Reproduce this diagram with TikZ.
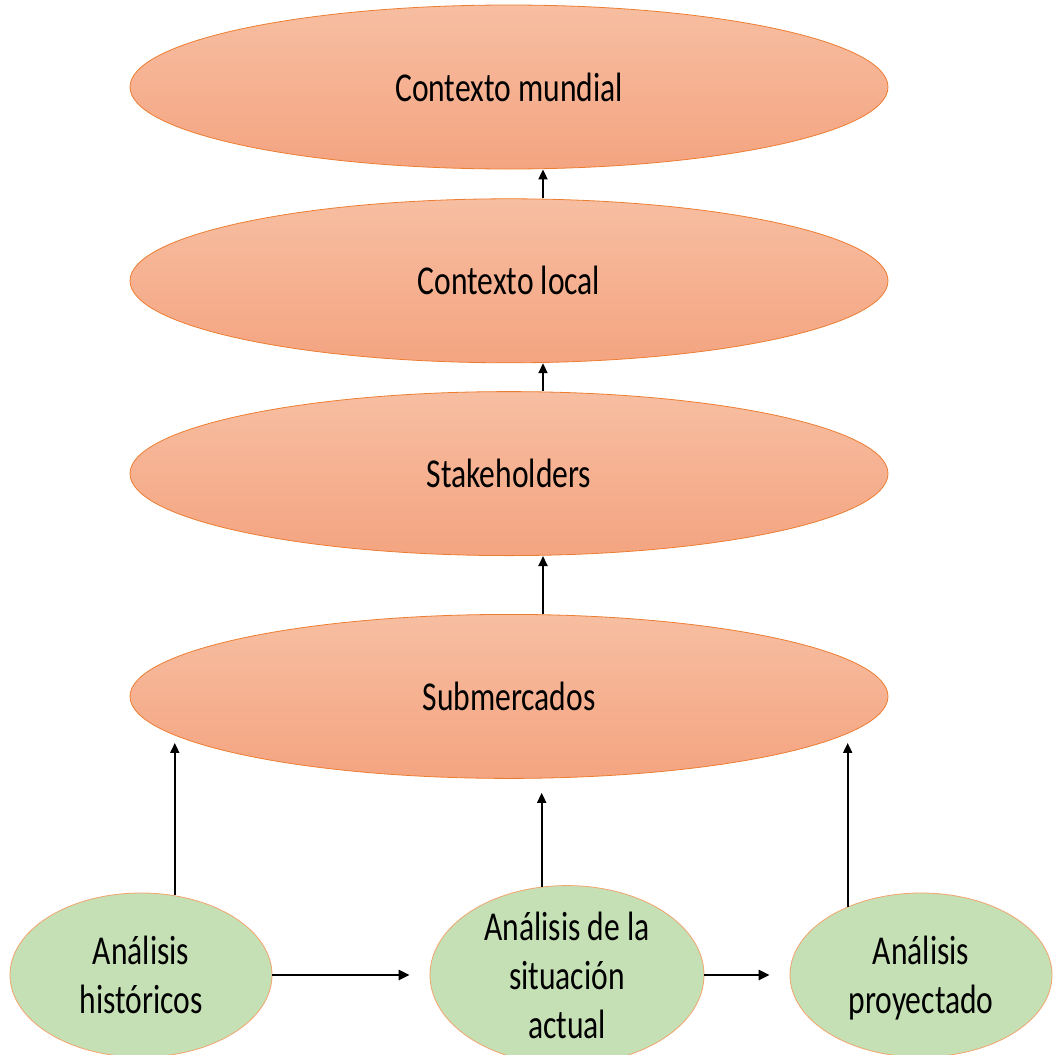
\documentclass[tikz,border=0pt]{standalone}
\usepackage{fontspec}
\setmainfont[FakeStretch=0.77]{Carlito}
\usepackage{tikz}
\usetikzlibrary{arrows.meta, positioning, shapes.geometric}
\definecolor{PeachTop}{HTML}{F7BEA1}
\definecolor{PeachBottom}{HTML}{F4A481}
\definecolor{PeachEdge}{HTML}{ED7D31}
\definecolor{SageFill}{HTML}{C5E0B4}

\begin{document}
\begin{tikzpicture}[x=1pt, y=-1pt, every node/.style={font=\fontsize{41}{49}\selectfont}]
  \tikzstyle{level}=[ellipse, draw=PeachEdge, line width=0.8pt, top color=PeachTop, bottom color=PeachBottom, minimum width=758pt, minimum height=164pt, inner sep=0pt]
  \tikzstyle{source}=[ellipse, draw=PeachEdge!70, line width=0.8pt, fill=SageFill, minimum height=164pt, inner sep=0pt, text depth=0pt, align=center]
  \tikzstyle{uparrow}=[-{Triangle[length=10pt, width=9pt]}, line width=1.8pt]
  \tikzstyle{sidearrow}=[-{Triangle[length=11pt, width=10pt]}, line width=2.8pt]

  \useasboundingbox (0,0) rectangle (1053,1055);

  \node[level] (mundial) at (509,87) {Contexto mundial};
  \node[level, below=29pt of mundial] (local) {Contexto local};
  \node[level, below=28pt of local] (stake) {Stakeholders};
  \node[level, below=58pt of stake] (subm) {Submercados};

  \node[source, minimum width=262pt] (hist) at (141,975) {Análisis\\históricos};
  \node[source, minimum width=274pt] (sit) at (567,975) {Análisis de la\\situación\\actual};
  \node[source, minimum width=262pt] (proj) at (921,975) {Análisis\\proyectado};

  \draw[uparrow] ([xshift=34pt]local.north) -- ([xshift=34pt]mundial.south);
  \draw[uparrow] ([xshift=34pt]stake.north) -- ([xshift=34pt]local.south);
  \draw[uparrow] ([xshift=34pt]subm.north) -- ([xshift=34pt]stake.south);

  \draw[uparrow, shorten >=6pt] (hist.67) -- (hist.67 |- subm.187);
  \draw[uparrow, shorten >=14pt] (sit.106) -- (sit.106 |- subm.south);
  \draw[uparrow, shorten >=6pt] (proj.137) -- (proj.137 |- subm.353);

  \draw[sidearrow, shorten >=20pt] (hist.east) -- (sit.west);
  \draw[sidearrow, shorten >=20pt] (sit.east) -- (proj.west);
\end{tikzpicture}
\end{document}
